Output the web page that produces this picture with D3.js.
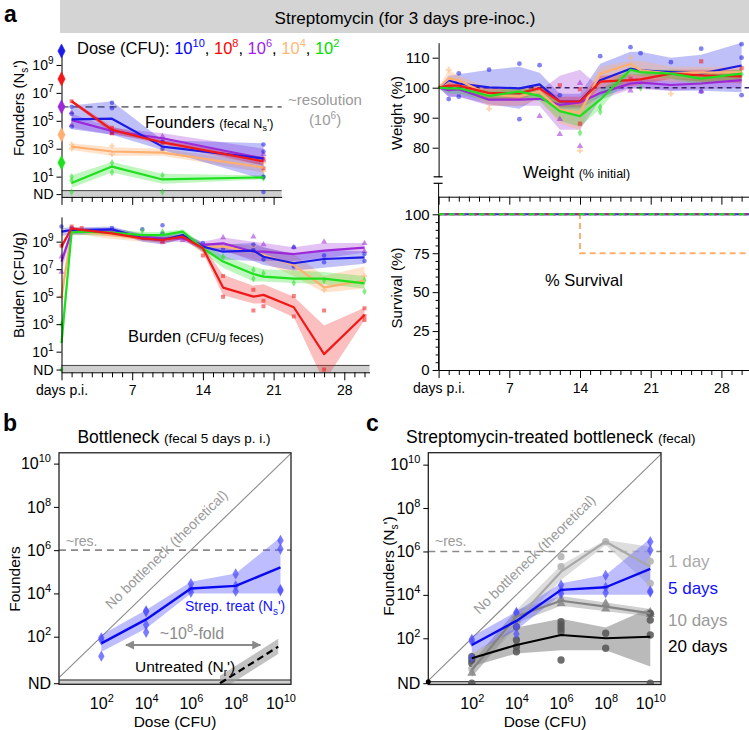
<!DOCTYPE html>
<html>
<head>
<meta charset="utf-8">
<script src="https://cdn.jsdelivr.net/npm/d3@7/dist/d3.min.js"></script>
<style>
html,body{margin:0;padding:0;background:#fff;}
svg{display:block;}
</style>
</head>
<body>
<svg id="fig" width="749" height="730"></svg>
<script>
// ====================== DATA ======================
// Dose groups (log10 CFU) in panel a
const doseExponents = [10, 8, 6, 4, 2];
const doseColors = ["#1c1ce6", "#f01818", "#9c28d8", "#ffb070", "#1ee01e"];
const doseLegendColors = ["#0000ff", "#ff0000", "#a020f0", "#ffb877", "#00dd00"];

// Founders (log10 fecal Ns') by day p.i.
const founderDays = [1, 5, 10, 20];
const foundersMean10 = [5.1, 5.15, 3.15, 2.3];
const foundersLo10   = [4.4, 4.0, 2.9, 0.8];
const foundersHi10   = [6.1, 6.4, 3.6, 3.4];
const foundersMean8  = [6.4, 4.35, 3.45, 2.1];
const foundersLo8    = [6.3, 4.1, 3.3, 1.8];
const foundersHi8    = [6.5, 4.6, 3.6, 2.4];
const foundersMean6  = [5.05, 4.27, 3.75, 2.3];
const foundersLo6    = [4.5, 4.0, 3.5, 1.8];
const foundersHi6    = [5.5, 4.5, 4.1, 3.0];
const foundersMean4  = [3.15, 2.8, 2.72, 1.65];
const foundersLo4    = [2.9, 2.5, 2.5, 1.3];
const foundersHi4    = [3.4, 3.1, 3.0, 2.0];
const foundersMean2  = [0.55, 1.72, 0.8, 0.95];
const foundersLo2    = [0.2, 1.3, 0.5, 0.8];
const foundersHi2    = [1.1, 2.05, 1.2, 1.1];
const foundersPts10 = [[1,6.0],[1,5.5],[1,4.6],[5,6.3],[5,5.9],[5,4.2],[10,3.5],[10,3.0],[20,3.3],[20,2.8],[20,1.0],[20,-0.1]];
const foundersPts8  = [[1,6.4],[5,4.1],[5,4.5],[10,3.4],[20,2.3],[20,1.6]];
const foundersPts6  = [[1,5.6],[1,4.7],[5,4.3],[5,4.1],[10,3.9],[10,3.6],[20,2.6],[20,2.2]];
const foundersPts4  = [[1,3.3],[1,3.0],[5,3.2],[5,2.6],[10,2.9],[20,2.0],[20,1.4]];
const foundersPts2  = [[1,1.0],[1,0.7],[1,-0.1],[5,2.0],[5,1.3],[10,1.1],[10,-0.1],[20,1.0],[20,0.9]];

// Burden (log10 CFU/g feces) by day p.i.
const burdenDays = [0, 1, 2, 5, 8, 10, 12, 14, 16, 19, 20, 23, 26, 30];
const burdenMean10 = [9.73, 9.85, 9.85, 9.9, 9.24, 9.12, 9.48, 8.64, 8.27, 8.35, 7.9, 7.43, 7.74, 7.86];
const burdenLo10   = [9.4, 9.6, 9.6, 9.7, 9.0, 8.8, 9.2, 8.3, 7.7, 7.6, 7.3, 6.9, 7.1, 7.4];
const burdenHi10   = [10.0, 10.05, 10.05, 10.1, 9.5, 9.4, 9.7, 8.9, 8.8, 8.9, 8.6, 8.1, 8.4, 8.3];
const burdenMean8  = [8.64, 9.97, 9.85, 9.6, 9.24, 9.12, 9.36, 8.52, 5.66, 5.0, 5.13, 4.23, 0.82, 3.67];
const burdenLo8    = [8.4, 9.8, 9.7, 9.45, 9.1, 8.9, 9.2, 8.2, 5.1, 4.5, 4.5, 3.5, -1.2, 3.3];
const burdenHi8    = [8.9, 10.1, 10.0, 9.75, 9.4, 9.3, 9.5, 8.7, 6.6, 5.8, 5.9, 5.0, 2.9, 4.2];
const burdenMean6  = [7.55, 9.73, 9.73, 9.85, 9.36, 9.24, 9.24, 8.76, 8.88, 8.27, 8.27, 8.1, 8.35, 8.56];
const burdenLo6    = [6.8, 9.5, 9.5, 9.6, 9.1, 9.0, 9.0, 8.5, 8.4, 7.6, 7.6, 7.6, 7.8, 8.2];
const burdenHi6    = [8.0, 9.9, 9.9, 10.0, 9.6, 9.5, 9.5, 9.0, 9.3, 9.0, 8.9, 8.6, 8.9, 8.9];
const burdenMean4  = [5.0, 9.73, 9.73, 9.48, 9.24, 9.12, 9.36, 8.64, 8.64, 8.27, 8.03, 7.3, 5.68, 6.17];
const burdenLo4    = [4.2, 9.5, 9.5, 9.2, 9.0, 8.9, 9.2, 8.4, 8.3, 7.7, 7.5, 6.5, 5.3, 5.6];
const burdenHi4    = [5.8, 9.9, 9.9, 9.7, 9.4, 9.3, 9.5, 8.8, 8.9, 8.7, 8.6, 8.1, 6.5, 7.2];
const burdenMean2  = [1.62, 9.68, 9.73, 9.65, 9.48, 9.48, 9.73, 8.52, 7.55, 6.65, 6.46, 6.31, 6.31, 5.97];
const burdenLo2    = [0.5, 9.5, 9.5, 9.4, 9.2, 9.2, 9.5, 8.2, 7.1, 6.1, 6.1, 6.0, 5.9, 5.6];
const burdenHi2    = [3.0, 9.9, 9.9, 9.9, 9.7, 9.7, 9.9, 8.8, 8.0, 7.2, 7.0, 6.9, 6.8, 6.5];
const burdenPts10 = [[0,10.1],[1,10.0],[5,10.0],[8,9.9],[10,10.2],[10,9.6],[14,8.9],[16,8.5],[19,8.8],[19,8.4],[20,7.7],[23,8.6],[23,7.2],[26,7.5],[26,8.0],[30,7.6],[30,8.1]];
const burdenPts8  = [[0,8.7],[1,10.1],[2,10.0],[5,9.7],[10,9.0],[14,8.0],[16,6.5],[16,5.0],[19,5.5],[19,4.0],[20,4.7],[20,4.3],[23,5.05],[23,3.55],[26,4.0],[26,-0.3],[30,4.15],[30,3.3],[30,3.6]];
const burdenPts6  = [[0,6.8],[0,7.9],[1,9.8],[10,9.0],[12,9.1],[16,9.3],[19,9.36],[20,8.8],[23,8.6],[26,9.0],[30,8.88],[30,8.3]];
const burdenPts4  = [[0,5.0],[1,9.6],[12,9.2],[19,8.7],[26,5.5],[30,6.5]];
const burdenPts2  = [[0,-0.3],[0,3.0],[1,9.7],[8,9.8],[10,9.7],[16,7.9],[19,6.94],[19,6.3],[20,6.7],[23,6.0],[26,6.2],[30,5.37],[30,6.2]];

// Weight (% initial) by day p.i.
const weightDays = [0, 1, 2, 5, 8, 10, 12, 14, 16, 19, 20, 23, 26, 30];
const weightMean10 = [100, 102.5, 101.4, 100.1, 99.8, 101.1, 95.4, 95.4, 102.5, 106.3, 105.8, 105.2, 104.7, 107.4];
const weightLo10   = [100, 97, 97, 94.5, 93, 97, 93, 93, 97, 100, 100, 99, 99, 98.5];
const weightHi10   = [100, 104, 104.5, 106, 107, 105, 98, 98, 108, 112, 112, 110, 111, 115];
const weightMean8  = [100, 100.7, 100.7, 98.2, 98.2, 99.8, 95.4, 95.4, 102, 102.5, 102.8, 104.7, 104.1, 103.8];
const weightLo8    = [100, 99, 99, 96, 96, 98.5, 93.5, 93.5, 100, 100.5, 101, 103, 102, 101.5];
const weightHi8    = [100, 102, 102, 100, 100, 101, 97, 97, 104, 104.5, 104.5, 106, 106, 106];
const weightMean6  = [100, 99.2, 99.5, 96, 96, 96.3, 94.3, 95.1, 98.2, 101.4, 101.7, 100.9, 101.4, 102.5];
const weightLo6    = [100, 97, 97, 94, 94, 94, 86, 86, 96, 99.5, 99.5, 99, 99.5, 100];
const weightHi6    = [100, 101, 101, 98, 98, 99, 104, 106, 100, 103, 103, 103, 103, 105];
const weightMean4  = [100, 103, 102.5, 97.6, 97.1, 98.7, 92.7, 91.6, 104.7, 107.9, 105.8, 104.7, 105, 105.2];
const weightLo4    = [100, 100, 100, 94, 94, 96, 88, 86, 101, 104, 103, 102, 102, 103];
const weightHi4    = [100, 106, 104, 100, 99, 101, 95, 95, 107, 109, 109, 107, 107, 107];
const weightMean2  = [100, 99.8, 99.8, 97.3, 98.7, 97.3, 92.2, 90.5, 96, 106, 105.2, 104.7, 103, 104.7];
const weightLo2    = [100, 98, 98, 95.5, 97, 95.5, 89, 87, 93, 104.5, 104, 103, 101, 103];
const weightHi2    = [100, 101, 101, 99, 100, 99, 95, 94, 99, 107, 106, 106, 105, 106];
const weightPts10 = [[1,96.2],[2,97],[2,104.8],[5,106],[8,108],[8,89.5],[10,107.5],[12,97.5],[16,110.5],[19,113.5],[20,111.5],[23,108.5],[26,113],[26,98.7],[30,114.5],[30,97.5],[30,110]];
const weightPts8  = [[12,100.8],[14,99.5],[14,88],[19,103],[26,108.8],[30,106.5]];
const weightPts6  = [[10,90.5],[12,84.5],[12,89.5],[14,80.5],[14,101.5],[19,99],[26,98.8]];
const weightPts4  = [[1,106],[5,93],[14,79],[19,110],[23,98]];
const weightPts2  = [[14,85],[16,92],[16,93.5],[20,100],[30,104.5]];

// Survival (%)
const survivalDays = [0, 14, 14, 30.8];
const survival10 = [100, 100, 100, 100];
const survival8  = [100, 100, 100, 100];
const survival6  = [100, 100, 100, 100];
const survival4  = [100, 100, 75, 75];
const survival2  = [100, 100, 100, 100];

// Panel b/c: founders (log10) vs dose (log10 CFU)
const bottleneckDoses = [2, 4, 6, 8, 10];
const strep5Mean = [1.69, 2.8, 4.23, 4.35, 5.2];
const strep5Lo   = [1.31, 2.38, 4.0, 4.0, 4.0];
const strep5Hi   = [2.08, 3.23, 4.54, 4.92, 6.6];
const strep5Pts  = [[2,1.95],[2,1.85],[2,1.1],[4,3.2],[4,3.15],[4,2.55],[4,2.2],[6,4.45],[6,4.2],[6,4.05],[8,4.9],[8,4.35],[8,4.1],[10,6.45],[10,6.05],[10,4.18],[10,4.12]];
const untreatedDoses = [7.3, 9.9];
const untreatedMean  = [-0.15, 1.54];
const untreatedLo    = [-0.5, 1.2];
const untreatedHi    = [0.2, 1.9];
const strep1Mean  = [0.69, 2.84, 5.07, 6.45, 5.3];
const strep1Lo    = [0.23, 2.53, 4.69, 6.3, 4.38];
const strep1Hi    = [0.85, 3.3, 5.38, 6.53, 6.22];
const strep1Pts   = [[2,0.6],[4,3.0],[4,2.7],[6,5.76],[6,5.3],[8,6.45],[10,5.55],[10,4.53]];
const strep10Mean = [0.54, 3.0, 3.73, 3.46, 3.15];
const strep10Lo   = [0.2, 2.7, 3.5, 3.25, 3.0];
const strep10Hi   = [0.9, 3.3, 3.95, 3.65, 3.35];
const strep10Pts  = [[2,0.4],[4,3.05],[4,2.85],[6,3.8],[6,3.6],[8,3.6],[8,3.35],[10,3.2],[10,3.1]];
const strep20Mean = [1.08, 1.69, 2.15, 2.0, 2.07];
const strep20Lo   = [0.7, 1.3, 1.45, 1.45, 0.7];
const strep20Hi   = [1.3, 2.5, 2.9, 2.5, 3.4];
const strep20Pts  = [[2,1.15],[2,1.0],[2,0.85],[2,-0.07],[4,2.53],[4,1.92],[4,1.61],[4,1.38],[6,2.76],[6,2.61],[6,2.46],[6,2.3],[6,1.0],[8,2.23],[8,1.54],[10,3.15],[10,2.84],[10,2.15],[10,-0.07]];

// ====================== DRAWING ======================
const FONT = '"Liberation Sans", Arial, Helvetica, sans-serif';
const svg = d3.select("#fig").attr("font-family", FONT);

function rich(sel, parts) {
  let cur = 0;
  parts.forEach(p => {
    const ts = sel.append("tspan").text(p.t);
    if (p.fs) ts.attr("font-size", p.fs);
    if (p.fill) ts.attr("fill", p.fill);
    const s = p.shift || 0;
    if (s !== cur) ts.attr("dy", s - cur);
    cur = s;
  });
  return sel;
}
function label(x, y, parts, o = {}) {
  const t = svg.append("text").attr("x", x).attr("y", y).attr("font-size", o.fs || 14);
  if (o.anchor) t.attr("text-anchor", o.anchor);
  if (o.fill) t.attr("fill", o.fill);
  if (o.rotate !== undefined) t.attr("transform", `rotate(${o.rotate},${x},${y})`);
  return rich(t, parts);
}
function powTicks(g, fs) {
  g.selectAll(".tick text").each(function (d) {
    const t = d3.select(this); t.text(null);
    if (d < 0) { t.text("ND"); return; }
    rich(t, [{ t: "10", fs: fs }, { t: String(d), fs: Math.round(fs * 0.68), shift: -Math.round(fs * 0.42) }]);
  });
}
function styleAxis(g, fs) {
  g.attr("font-family", FONT).attr("font-size", fs);
  g.selectAll("path,line").attr("stroke", "#000");
  g.selectAll("text").attr("fill", "#000");
}
const symTypes = [d3.symbolCircle, d3.symbolSquare, d3.symbolTriangle, d3.symbolCross, d3.symbolDiamond];

// ---------- header ----------
svg.append("rect").attr("x", 60).attr("y", 0).attr("width", 689).attr("height", 33).attr("fill", "#d4d4d4");
label(405, 24, [{ t: "Streptomycin (for 3 days pre-inoc.)" }], { fs: 17, anchor: "middle" });
label(4, 22, [{ t: "a" }], { fs: 23 }).attr("font-weight", "bold");
label(3, 431, [{ t: "b" }], { fs: 23 }).attr("font-weight", "bold");
label(366, 431, [{ t: "c" }], { fs: 23 }).attr("font-weight", "bold");

// ---------- series tables ----------
const fMeans = [foundersMean10, foundersMean8, foundersMean6, foundersMean4, foundersMean2];
const fLos = [foundersLo10, foundersLo8, foundersLo6, foundersLo4, foundersLo2];
const fHis = [foundersHi10, foundersHi8, foundersHi6, foundersHi4, foundersHi2];
const fPts = [foundersPts10, foundersPts8, foundersPts6, foundersPts4, foundersPts2];
const bMeans = [burdenMean10, burdenMean8, burdenMean6, burdenMean4, burdenMean2];
const bLos = [burdenLo10, burdenLo8, burdenLo6, burdenLo4, burdenLo2];
const bHis = [burdenHi10, burdenHi8, burdenHi6, burdenHi4, burdenHi2];
const bPts = [burdenPts10, burdenPts8, burdenPts6, burdenPts4, burdenPts2];
const wMeans = [weightMean10, weightMean8, weightMean6, weightMean4, weightMean2];
const wLos = [weightLo10, weightLo8, weightLo6, weightLo4, weightLo2];
const wHis = [weightHi10, weightHi8, weightHi6, weightHi4, weightHi2];
const wPts = [weightPts10, weightPts8, weightPts6, weightPts4, weightPts2];
const survs = [survival10, survival8, survival6, survival4, survival2];

// ---------- scales panel a ----------
const xL = d3.scaleLinear().domain([0, 30]).range([61.5, 364.5]);
const yF = d3.scaleLinear().domain([-0.45, 10.35]).range([196.9, 46.1]);
const yB = d3.scaleLinear().domain([-0.5, 10.8]).range([372.3, 216.9]);
const xR = d3.scaleLinear().domain([0, 30]).range([438.6, 741.6]);
const yW = d3.scaleLinear().domain([70.3, 115]).range([176.8, 42.7]);
const yS = d3.scaleLinear().domain([0, 100]).range([370, 214.3]);

function drawSeries(layer, xs, ys, days, means, los, his, pts, order, opts) {
  const area = d3.area().x((d, i) => xs(days[i])).y0(d => ys(d[0])).y1(d => ys(d[1]));
  const line = d3.line().x((d, i) => xs(days[i])).y(d => ys(d));
  order.forEach(k => {
    layer.append("path").datum(los[k].map((v, i) => [v, his[k][i]])).attr("d", area)
      .attr("fill", doseColors[k]).attr("fill-opacity", k === 3 ? 0.35 : 0.28);
  });
  order.forEach(k => {
    layer.selectAll(null).data(pts[k]).enter().append("path")
      .attr("d", d3.symbol().type(symTypes[k]).size(opts.symSize))
      .attr("transform", d => `translate(${xs(d[0])},${ys(d[1])})`)
      .attr("fill", doseColors[k]).attr("fill-opacity", 0.55);
  });
  if (opts.before) opts.before();
  order.forEach(k => {
    layer.append("path").datum(means[k]).attr("d", line).attr("fill", "none")
      .attr("stroke", doseColors[k]).attr("stroke-width", 2.2).attr("stroke-linejoin", "round");
  });
}

function dayAxis(y, scale, maxDay, withLabels) {
  const sc = scale.copy().domain([0, maxDay]).range([scale(0), scale(maxDay)]);
  const ax = d3.axisBottom(sc).tickValues(d3.range(0, Math.floor(maxDay) + 1)).tickSizeOuter(0)
    .tickFormat(d => withLabels ? (d === 0 ? "days p.i." : (d % 7 === 0 ? d : "")) : "");
  const g = svg.append("g").attr("transform", `translate(0,${y})`).call(ax);
  styleAxis(g, 14);
  g.selectAll(".tick line").attr("y2", d => d % 7 === 0 ? 8 : 5);
  g.selectAll(".tick text").attr("y", 13);
  return g;
}

// ===== Founders panel =====
const fL = svg.append("g");
fL.append("rect").attr("x", xL(0)).attr("y", yF(0)).attr("width", xL(21.8) - xL(0)).attr("height", yF(-0.45) - yF(0)).attr("fill", "#cfcfcf");
fL.append("line").attr("x1", xL(0)).attr("x2", xL(21.8)).attr("y1", yF(0)).attr("y2", yF(0)).attr("stroke", "#444");
fL.append("line").attr("x1", xL(0)).attr("x2", xL(21.8)).attr("y1", yF(6)).attr("y2", yF(6))
  .attr("stroke", "#777").attr("stroke-width", 1.6).attr("stroke-dasharray", "7,5");
drawSeries(fL, xL, yF, founderDays, fMeans, fLos, fHis, fPts, [3, 4, 2, 0, 1], { symSize: 16 });
dayAxis(yF(-0.45), xL, 21.8, false);
const gFy = svg.append("g").attr("transform", `translate(${xL(0)},0)`)
  .call(d3.axisLeft(yF).tickValues([9, 7, 5, 3, 1, -0.25]).tickSize(5).tickSizeOuter(0));
styleAxis(gFy, 14); powTicks(gFy, 14);
// dose diamonds on axis
svg.selectAll(null).data(doseExponents).enter().append("path")
  .attr("d", d3.symbol().type(d3.symbolDiamond).size(46))
  .attr("transform", d => `translate(${xL(0)},${yF(d)}) scale(1,1.12)`)
  .attr("fill", (d, i) => doseColors[i]).attr("stroke", (d, i) => doseColors[i]).attr("stroke-width", 0.5);
// legend
label(77, 54, [
  { t: "Dose (CFU): " },
  { t: "10", fill: doseLegendColors[0] }, { t: "10", fs: 11, fill: doseLegendColors[0], shift: -7 }, { t: ", " },
  { t: "10", fill: doseLegendColors[1] }, { t: "8", fs: 11, fill: doseLegendColors[1], shift: -7 }, { t: ", " },
  { t: "10", fill: doseLegendColors[2] }, { t: "6", fs: 11, fill: doseLegendColors[2], shift: -7 }, { t: ", " },
  { t: "10", fill: doseLegendColors[3] }, { t: "4", fs: 11, fill: doseLegendColors[3], shift: -7 }, { t: ", " },
  { t: "10", fill: doseLegendColors[4] }, { t: "2", fs: 11, fill: doseLegendColors[4], shift: -7 }
], { fs: 16.5 });
label(145, 128, [{ t: "Founders " }, { t: "(fecal N", fs: 12.5 }, { t: "s", fs: 9, shift: 3 }, { t: "')", fs: 12.5 }], { fs: 16.5 });
label(325, 105, [{ t: "~resolution" }], { fs: 15, fill: "#9a9a9a", anchor: "middle" });
label(325, 125, [{ t: "(10" }, { t: "6", fs: 10, shift: -6 }, { t: ")" }], { fs: 15, fill: "#9a9a9a", anchor: "middle" });
label(24, 108, [{ t: "Founders (N" }, { t: "s", fs: 10, shift: 4 }, { t: "')" }], { fs: 15, anchor: "middle", rotate: -90 });

// ===== Burden panel =====
const bL = svg.append("g");
bL.append("rect").attr("x", xL(0)).attr("y", yB(0)).attr("width", xL(30.5) - xL(0)).attr("height", yB(-0.5) - yB(0)).attr("fill", "#cfcfcf");
bL.append("line").attr("x1", xL(0)).attr("x2", xL(30.5)).attr("y1", yB(0)).attr("y2", yB(0)).attr("stroke", "#444");
const clipB = svg.append("clipPath").attr("id", "clipB");
clipB.append("rect").attr("x", 0).attr("y", 210).attr("width", 372).attr("height", yB(-0.5) - 210);
const bLc = bL.append("g").attr("clip-path", "url(#clipB)");
drawSeries(bLc, xL, yB, burdenDays, bMeans, bLos, bHis, bPts, [3, 2, 0, 4, 1], { symSize: 16 });
dayAxis(yB(-0.5), xL, 30.5, true);
const gBy = svg.append("g").attr("transform", `translate(${xL(0)},0)`)
  .call(d3.axisLeft(yB).tickValues([9, 7, 5, 3, 1, -0.3]).tickSize(5).tickSizeOuter(0));
styleAxis(gBy, 14); powTicks(gBy, 14);
label(128, 342, [{ t: "Burden " }, { t: "(CFU/g feces)", fs: 12.5 }], { fs: 16.5 });
label(24, 285, [{ t: "Burden (CFU/g)" }], { fs: 15, anchor: "middle", rotate: -90 });

// ===== Weight panel =====
const wL = svg.append("g");
drawSeries(wL, xR, yW, weightDays, wMeans, wLos, wHis, wPts, [0, 2, 3, 1, 4], {
  symSize: 18,
  before: () => wL.append("line").attr("x1", xR(0)).attr("x2", 749).attr("y1", yW(100)).attr("y2", yW(100))
    .attr("stroke", "#3a2468").attr("stroke-width", 1.5).attr("stroke-dasharray", "5,4")
});
const gWy = svg.append("g").attr("transform", `translate(${xR(0)},0)`)
  .call(d3.axisLeft(yW).tickValues([80, 90, 100, 110]).tickSize(6).tickSizeOuter(0));
styleAxis(gWy, 15);
svg.append("line").attr("x1", xR(0)).attr("x2", xR(0)).attr("y1", 183.3).attr("y2", 370).attr("stroke", "#000");
[176.8, 183.3].forEach(y => svg.append("line").attr("x1", xR(0) - 5).attr("x2", xR(0) + 4).attr("y1", y).attr("y2", y).attr("stroke", "#000").attr("stroke-width", 1.2));
dayAxis(196.7, xR, 30.8, false);
label(523, 178, [{ t: "Weight " }, { t: "(% initial)", fs: 12.5 }], { fs: 16.5 });
label(402, 113, [{ t: "Weight (%)" }], { fs: 15, anchor: "middle", rotate: -90 });

// ===== Survival panel =====
const sLine = d3.line().x((d, i) => xR(survivalDays[i])).y(d => yS(d));
svg.append("path").datum(survs[3]).attr("d", sLine).attr("fill", "none").attr("stroke", doseColors[3])
  .attr("stroke-width", 2).attr("stroke-dasharray", "6,4");
svg.append("path").datum(survs[0]).attr("d", sLine).attr("fill", "none").attr("stroke", doseColors[0]).attr("stroke-width", 2);
svg.append("path").datum(survs[1]).attr("d", sLine).attr("fill", "none").attr("stroke", doseColors[1]).attr("stroke-width", 2).attr("stroke-dasharray", "3,3");
svg.append("path").datum(survs[2]).attr("d", sLine).attr("fill", "none").attr("stroke", doseColors[2]).attr("stroke-width", 2).attr("stroke-dasharray", "3,7").attr("stroke-dashoffset", 5);
svg.append("path").datum(survs[4]).attr("d", sLine).attr("fill", "none").attr("stroke", doseColors[4]).attr("stroke-width", 2).attr("stroke-dasharray", "6,4");
const gSy = svg.append("g").attr("transform", `translate(${xR(0)},0)`)
  .call(d3.axisLeft(yS).tickValues(d3.range(0, 101, 5)).tickSizeOuter(0).tickFormat(d => d % 25 === 0 ? d : ""));
styleAxis(gSy, 15);
gSy.selectAll(".tick line").attr("x2", d => d % 25 === 0 ? -6 : -3);
dayAxis(370, xR, 30.8, true);
label(545, 286, [{ t: "% Survival" }], { fs: 16.5 });
label(402, 288, [{ t: "Survival (%)" }], { fs: 15, anchor: "middle", rotate: -90 });

// ====================== Panels b & c ======================
function bottleneckFrame(xs, ys, ndTick, clipId) {
  const [x0, x1] = xs.range(); const [yb0, yt] = ys.range();
  const cp = svg.append("clipPath").attr("id", clipId);
  cp.append("rect").attr("x", x0).attr("y", yt).attr("width", x1 - x0).attr("height", yb0 - yt);
  const g = svg.append("g");
  g.append("rect").attr("x", x0).attr("y", ys(0)).attr("width", x1 - x0).attr("height", yb0 - ys(0)).attr("fill", "#cfcfcf");
  g.append("line").attr("x1", x0).attr("x2", x1).attr("y1", ys(0)).attr("y2", ys(0)).attr("stroke", "#222");
  const d0 = Math.max(xs.domain()[0], ys.domain()[0]);
  const d1 = Math.min(xs.domain()[1], ys.domain()[1]);
  g.append("line").attr("x1", xs(d0)).attr("y1", ys(d0)).attr("x2", xs(d1)).attr("y2", ys(d1))
    .attr("stroke", "#8a8a8a").attr("stroke-width", 1.1);
  g.append("line").attr("x1", x0).attr("x2", x1).attr("y1", ys(6)).attr("y2", ys(6))
    .attr("stroke", "#8a8a8a").attr("stroke-width", 1.6).attr("stroke-dasharray", "7,5");
  const inner = svg.append("g").attr("clip-path", `url(#${clipId})`);
  return { g, inner, x0, x1, yt, yb0 };
}
function bottleneckAxes(xs, ys, ndTick, fr) {
  svg.append("rect").attr("x", fr.x0).attr("y", fr.yt).attr("width", fr.x1 - fr.x0).attr("height", fr.yb0 - fr.yt)
    .attr("fill", "none").attr("stroke", "#222").attr("stroke-width", 1.3);
  const gy = svg.append("g").attr("transform", `translate(${fr.x0},0)`)
    .call(d3.axisLeft(ys).tickValues([10, 8, 6, 4, 2, ndTick]).tickSize(5).tickSizeOuter(0));
  styleAxis(gy, 16); powTicks(gy, 16); gy.select(".domain").remove();
  const gx = svg.append("g").attr("transform", `translate(0,${fr.yb0})`)
    .call(d3.axisBottom(xs).tickValues(bottleneckDoses).tickSize(0).tickSizeOuter(0));
  styleAxis(gx, 16); powTicks(gx, 16); gx.select(".domain").remove();
  gx.selectAll(".tick text").attr("y", 13);
}
function band(layer, xs, ys, doses, lo, hi, fill, op) {
  layer.append("path").datum(lo.map((v, i) => [v, hi[i]]))
    .attr("d", d3.area().x((d, i) => xs(doses[i])).y0(d => ys(d[0])).y1(d => ys(d[1])))
    .attr("fill", fill).attr("fill-opacity", op);
}
function mline(layer, xs, ys, doses, m, stroke, w, dash) {
  const p = layer.append("path").datum(m).attr("d", d3.line().x((d, i) => xs(doses[i])).y(d => ys(d)))
    .attr("fill", "none").attr("stroke", stroke).attr("stroke-width", w).attr("stroke-linejoin", "round");
  if (dash) p.attr("stroke-dasharray", dash);
}
function pts(layer, xs, ys, data, type, size, fill, op) {
  layer.selectAll(null).data(data).enter().append("path")
    .attr("d", d3.symbol().type(type).size(size))
    .attr("transform", d => `translate(${xs(d[0])},${ys(d[1])})`)
    .attr("fill", fill).attr("fill-opacity", op);
}

// ----- b -----
const xb = d3.scaleLinear().domain([0.11, 10.47]).range([59, 291]);
const yb = d3.scaleLinear().domain([-0.2, 10.5]).range([684.3, 452.8]);
const frB = bottleneckFrame(xb, yb, -0.15, "clipBb");
band(frB.inner, xb, yb, untreatedDoses, untreatedLo, untreatedHi, "#999", 0.6);
mline(frB.inner, xb, yb, untreatedDoses, untreatedMean, "#000", 2.2, "7,4");
band(frB.inner, xb, yb, bottleneckDoses, strep5Lo, strep5Hi, "#5a5aff", 0.4);
pts(frB.inner, xb, yb, strep5Pts, d3.symbolDiamond, 36, "#5050ff", 0.75);
mline(frB.inner, xb, yb, bottleneckDoses, strep5Mean, "#0a0af0", 2.4);
bottleneckAxes(xb, yb, -0.15, frB);
label(174, 443, [{ t: "Bottleneck " }, { t: "(fecal 5 days p. i.)", fs: 13.5 }], { fs: 17.5, anchor: "middle" });
label(66, 546, [{ t: "~res." }], { fs: 14, fill: "#9a9a9a" });
{
  const ang = -Math.atan((yb(0) - yb(1)) / (xb(1) - xb(0))) * 180 / Math.PI;
  label(167, 550, [{ t: "No bottleneck (theoretical)" }], { fs: 14, fill: "#9a9a9a", anchor: "middle", rotate: ang })
    .attr("dominant-baseline", "middle");
}
label(185, 611, [{ t: "Strep. treat (N" }, { t: "s", fs: 10, shift: 4 }, { t: "')" }], { fs: 14, fill: "#1414ff" });
label(192, 639, [{ t: "~10" }, { t: "8", fs: 11, shift: -7 }, { t: "-fold" }], { fs: 16, fill: "#8a8a8a", anchor: "middle" });
{
  const defs = svg.append("defs");
  defs.append("marker").attr("id", "arr").attr("viewBox", "0 0 10 10").attr("refX", 9).attr("refY", 5)
    .attr("markerWidth", 5.5).attr("markerHeight", 5).attr("orient", "auto-start-reverse")
    .append("path").attr("d", "M0,0 L10,5 L0,10 z").attr("fill", "#8a8a8a");
  svg.append("line").attr("x1", xb(3.1)).attr("x2", xb(9.1)).attr("y1", 645).attr("y2", 645)
    .attr("stroke", "#8a8a8a").attr("stroke-width", 1.8)
    .attr("marker-start", "url(#arr)").attr("marker-end", "url(#arr)");
}
label(135, 672, [{ t: "Untreated (N" }, { t: "r", fs: 10, shift: 4 }, { t: "')" }], { fs: 15.5 });
label(175, 727, [{ t: "Dose (CFU)" }], { fs: 15.5, anchor: "middle" });
label(20, 579, [{ t: "Founders" }], { fs: 15.5, anchor: "middle", rotate: -90 });

// ----- c -----
const xc = d3.scaleLinear().domain([0.05, 10.48]).range([428.3, 661]);
const yc = d3.scaleLinear().domain([-0.13, 10.55]).range([684.5, 452.7]);
const frC = bottleneckFrame(xc, yc, -0.07, "clipCc");
band(frC.inner, xc, yc, bottleneckDoses, strep1Lo, strep1Hi, "#cfcfcf", 0.7);
band(frC.inner, xc, yc, bottleneckDoses, strep10Lo, strep10Hi, "#aaaaaa", 0.55);
band(frC.inner, xc, yc, bottleneckDoses, strep20Lo, strep20Hi, "#8c8c8c", 0.6);
band(frC.inner, xc, yc, bottleneckDoses, strep5Lo, strep5Hi, "#5a5aff", 0.4);
pts(frC.inner, xc, yc, strep1Pts, d3.symbolCircle, 40, "#b4b4b4", 0.9);
pts(frC.inner, xc, yc, strep10Pts, d3.symbolTriangle, 36, "#8a8a8a", 0.9);
pts(frC.inner, xc, yc, strep20Pts, d3.symbolCircle, 42, "#555555", 0.85);
pts(frC.inner, xc, yc, strep5Pts, d3.symbolDiamond, 36, "#5050ff", 0.75);
mline(frC.inner, xc, yc, bottleneckDoses, strep1Mean, "#a8a8a8", 2.2);
mline(frC.inner, xc, yc, bottleneckDoses, strep10Mean, "#848484", 2.2);
mline(frC.inner, xc, yc, bottleneckDoses, strep20Mean, "#000", 2);
mline(frC.inner, xc, yc, bottleneckDoses, strep5Mean, "#0a0af0", 2.4);
bottleneckAxes(xc, yc, -0.07, frC);
svg.append("circle").attr("cx", xc(0.05)).attr("cy", yc(0)).attr("r", 2.5).attr("fill", "#000");
label(406, 443, [{ t: "Streptomycin-treated bottleneck " }, { t: "(fecal)", fs: 13.5 }], { fs: 17.5 });
label(435, 546, [{ t: "~res." }], { fs: 14, fill: "#9a9a9a" });
{
  const ang = -Math.atan((yc(0) - yc(1)) / (xc(1) - xc(0))) * 180 / Math.PI;
  label(535, 555, [{ t: "No bottleneck (theoretical)" }], { fs: 14, fill: "#9a9a9a", anchor: "middle", rotate: ang })
    .attr("dominant-baseline", "middle");
}
label(668, 567, [{ t: "1 day" }], { fs: 17, fill: "#aaaaaa" });
label(668, 594, [{ t: "5 days" }], { fs: 17, fill: "#1010ff" });
label(668, 626, [{ t: "10 days" }], { fs: 17, fill: "#999999" });
label(668, 652, [{ t: "20 days" }], { fs: 17, fill: "#000" });
label(545, 727, [{ t: "Dose (CFU)" }], { fs: 15.5, anchor: "middle" });
label(394, 566, [{ t: "Founders (N" }, { t: "s", fs: 10, shift: 4 }, { t: "')" }], { fs: 15.5, anchor: "middle", rotate: -90 });
</script>
</body>
</html>
